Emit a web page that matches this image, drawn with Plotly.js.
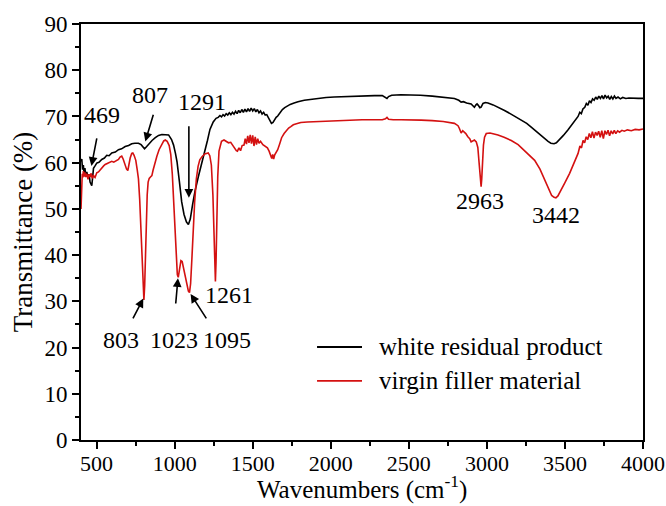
<!DOCTYPE html>
<html>
<head>
<meta charset="utf-8">
<script src="https://cdn.plot.ly/plotly-3.0.1.min.js"></script>
<style>
  html, body { margin: 0; padding: 0; background: #ffffff; }
  #chart { width: 666px; height: 506px; }
</style>
</head>
<body>
<div id="chart"></div>
<script>
// FTIR spectra: wavenumber (cm-1) vs transmittance (%)
const whiteResidualX = [
  400, 405, 410, 415, 420, 425, 430, 437, 445, 452, 458, 463, 469, 474, 480, 490,
  501, 515, 533, 550, 565, 580, 597, 620, 640, 660, 683, 705, 725, 745, 768, 785,
  797, 807, 818, 833, 855, 876, 897, 918, 940, 961, 980, 993, 1005, 1015, 1030, 1045,
  1060, 1075, 1088, 1100, 1115, 1130, 1152, 1172, 1194, 1210, 1226, 1247, 1265, 1279,
  1290, 1300, 1310, 1320, 1330, 1340, 1350, 1360, 1370, 1380, 1390, 1400, 1410, 1420,
  1430, 1440, 1450, 1460, 1470, 1480, 1490, 1500, 1510, 1520, 1530, 1540, 1550, 1560,
  1570, 1580, 1590, 1600, 1610, 1620, 1630, 1640, 1650, 1660, 1675, 1690, 1705, 1720,
  1740, 1765, 1790, 1830, 1870, 1915, 1970, 2022, 2080, 2130, 2200, 2280, 2330, 2350,
  2360, 2370, 2390, 2450, 2520, 2575, 2650, 2720, 2792, 2820, 2835, 2850, 2870, 2899,
  2910, 2920, 2930, 2937, 2945, 2955, 2963, 2975, 2990, 3007, 3040, 3080, 3113, 3160,
  3220, 3255, 3284, 3310, 3340, 3370, 3392, 3410, 3430, 3445, 3466, 3490, 3520, 3550,
  3570, 3584, 3595, 3605, 3615, 3627, 3637, 3647, 3657, 3667, 3677, 3687, 3697, 3707,
  3717, 3727, 3737, 3747, 3757, 3767, 3777, 3787, 3797, 3807, 3817, 3827, 3840, 3855,
  3870, 3890, 3910, 3940, 3970, 4000
];
const whiteResidualY = [
  60.2, 60.8, 58.5, 59.5, 57.6, 58.8, 57.4, 58.0, 56.8, 57.5, 55.8, 55.2, 55.0, 56.6, 58.8, 59.3,
  59.9, 60.1, 60.7, 61.0, 61.6, 61.5, 62.1, 62.3, 62.8, 63.0, 63.5, 63.7, 64.1, 64.2, 64.2, 63.9,
  63.4, 63.0, 63.4, 64.0, 64.8, 65.4, 65.9, 66.1, 66.1, 66.0, 65.0, 63.8, 62.0, 60.2, 56.0, 51.5,
  48.8, 47.2, 46.6, 47.8, 51.0, 53.8, 57.0, 59.6, 62.2, 64.8, 67.2, 68.8, 69.6, 69.8,
  70.2, 69.9, 70.4, 70.1, 70.6, 70.3, 70.8, 70.4, 70.9, 70.5, 71.1, 70.6, 71.3, 70.8,
  71.5, 70.9, 71.6, 71.0, 71.7, 71.1, 71.8, 71.2, 71.7, 71.0, 71.5, 70.8, 71.2, 70.5,
  70.9, 70.3, 70.4, 69.8, 69.0, 68.5, 68.7, 69.4, 69.8, 70.1, 70.9, 71.5, 71.9, 72.2,
  72.6, 72.9, 73.2, 73.5, 73.7, 73.9, 74.1, 74.2, 74.3, 74.4, 74.5, 74.5, 74.5, 74.2,
  73.9, 74.3, 74.6, 74.7, 74.7, 74.6, 74.4, 74.2, 73.9, 73.5, 73.1, 73.2, 72.9, 72.7,
  72.4, 72.0, 72.5, 72.7, 72.4, 71.9, 72.0, 72.8, 73.0, 72.9, 72.5, 71.9, 71.3, 70.4,
  69.2, 68.5, 67.7, 66.9, 66.0, 65.1, 64.6, 64.2, 64.1, 64.3, 65.0, 65.9, 67.1, 68.4,
  69.2, 70.0, 70.9, 70.6, 71.6, 72.0, 72.8, 72.4, 73.4, 73.0, 73.8, 73.5, 74.2, 73.7,
  74.4, 73.9, 74.5, 73.8, 74.6, 74.0, 74.4, 73.7, 74.3, 73.8, 74.4, 73.9, 74.2, 73.8,
  74.1, 73.9, 74.0, 73.9, 73.9, 73.9
];

const virginFillerX = [
  400, 404, 408, 412, 415, 420, 425, 430, 437, 445, 452, 458, 465, 472, 480, 490,
  501, 512, 523, 535, 545, 555, 570, 585, 597, 610, 625, 640, 650, 661, 670, 683,
  692, 700, 708, 715, 725, 732, 740, 751, 760, 768, 776, 786, 793, 798, 803, 808,
  813, 818, 824, 830, 837, 845, 854, 862, 872, 886, 900, 918, 930, 940, 952, 965,
  975, 985, 995, 1003, 1010, 1017, 1023, 1030, 1040, 1048, 1058, 1068, 1080, 1088, 1095, 1102,
  1110, 1118, 1128, 1139, 1150, 1161, 1175, 1193, 1205, 1215, 1225, 1235, 1245, 1252, 1257, 1261,
  1265, 1270, 1276, 1284, 1292, 1300, 1316, 1330, 1345, 1359, 1372, 1385, 1395, 1402, 1412, 1422,
  1432, 1444, 1452, 1460, 1468, 1476, 1484, 1492, 1500, 1508, 1516, 1524, 1532, 1540,
  1550, 1565, 1580, 1594, 1605, 1615, 1622, 1628, 1634, 1641, 1650, 1660, 1672, 1685,
  1701, 1715, 1730, 1744, 1760, 1780, 1808, 1850, 1915, 1970, 2022, 2080, 2129, 2200, 2280, 2330,
  2350, 2360, 2370, 2400, 2450, 2520, 2579, 2650, 2720, 2792, 2815, 2824, 2835, 2845, 2852, 2865,
  2878, 2890, 2899, 2910, 2920, 2932, 2942, 2950, 2956, 2960, 2963, 2967, 2972, 2978, 2985, 2996,
  3020, 3050, 3071, 3110, 3156, 3200, 3241, 3275, 3306, 3340, 3370, 3395, 3415, 3430, 3442, 3455,
  3477, 3500, 3530, 3555, 3570, 3584, 3596, 3606, 3616, 3626, 3636, 3646, 3656, 3666,
  3676, 3686, 3696, 3706, 3716, 3726, 3736, 3746, 3756, 3766, 3776, 3786, 3796, 3806,
  3816, 3826, 3838, 3850, 3865, 3880, 3900, 3925, 3950, 3975, 4000
];
const virginFillerY = [
  50.0, 54.8, 57.6, 56.8, 58.2, 57.0, 57.9, 56.9, 57.6, 56.4, 57.5, 56.9, 57.7, 56.6, 57.2, 56.8,
  57.8, 58.0, 58.5, 58.9, 59.3, 59.6, 59.8, 60.0, 60.3, 60.1, 60.5, 60.7, 61.2, 61.4, 60.8, 59.3,
  58.6, 58.3, 59.8, 61.0, 62.0, 62.1, 61.6, 60.5, 58.5, 56.5, 52.0, 44.0, 36.5, 32.0, 30.3, 33.5,
  41.0, 48.5, 53.0, 55.8, 56.6, 56.9, 57.2, 58.4, 59.9, 61.4, 62.8, 64.1, 64.7, 64.9, 64.6, 63.7,
  61.8, 57.5, 50.0, 43.0, 38.5, 35.8, 35.2, 37.2, 38.8, 38.6, 37.0, 35.0, 33.0, 32.2, 31.9, 33.8,
  39.0, 45.0, 51.5, 56.5, 59.2, 60.6, 61.3, 61.9, 62.1, 62.1, 61.5, 59.5, 53.0, 45.0, 38.0, 34.3,
  38.5, 48.0, 57.0, 62.5, 64.0, 64.6, 64.9, 64.6, 64.3, 64.4, 63.8, 63.0, 62.6, 62.5, 63.2, 62.6,
  63.7, 63.8, 65.2, 64.0, 65.8, 64.3, 66.0, 64.1, 65.9, 63.6, 65.6, 63.9, 65.2, 64.2,
  64.6, 63.9, 63.6, 63.2, 62.5, 61.6, 60.9, 61.8, 60.8, 61.7, 62.3, 62.8, 64.0, 65.4,
  66.3, 66.9, 67.5, 67.8, 68.2, 68.4, 68.7, 68.8, 68.9, 69.0, 69.1, 69.2, 69.2, 69.3, 69.3, 69.3,
  69.5, 69.8, 69.4, 69.3, 69.3, 69.3, 69.2, 69.1, 68.9, 68.5, 68.0, 67.4, 66.4, 66.9, 66.7, 66.3,
  65.6, 65.2, 64.5, 64.8, 64.9, 64.5, 63.3, 60.0, 56.5, 55.0, 54.8, 56.5, 60.5, 63.8, 65.5, 66.3,
  66.4, 66.2, 66.0, 65.5, 64.8, 63.9, 62.6, 61.6, 60.5, 58.6, 56.3, 54.2, 52.9, 52.5, 52.4, 52.8,
  54.1, 55.7, 57.7, 59.8, 61.0, 62.0, 63.6, 63.2, 64.8, 64.3, 65.6, 65.0, 66.3, 65.4,
  66.7, 65.3, 66.6, 65.9, 66.8, 65.5, 66.9, 65.2, 66.9, 66.1, 67.0, 65.8, 66.9, 66.2,
  67.0, 66.3, 66.9, 66.6, 67.0, 66.8, 67.1, 66.9, 67.2, 67.1, 67.3
];

// Band labels: text, label position (wavenumber, %T)
const bandLabels = ['469', '807', '1291', '803', '1023', '1095', '1261', '2963', '3442'];
const bandLabelX = [537, 845, 1177, 655, 995, 1338, 1348, 2953, 3445];
const bandLabelY = [70.3, 74.6, 73.2, 21.6, 21.6, 21.6, 31.4, 51.6, 48.7];

// Pointer arrows: head (wavenumber, %T) and tail (wavenumber, %T)
const arrowHeadX = [467, 812, 1091, 799, 1021, 1102];
const arrowHeadY = [59.3, 64.6, 52.4, 30.6, 35.0, 31.6];
const arrowTailX = [503, 866, 1091, 728, 1006, 1209];
const arrowTailY = [65.6, 70.7, 68.2, 26.0, 29.2, 26.0];

const seriesNames = ['white residual product', 'virgin filler material'];
const seriesColors = ['#000000', '#d41111'];
const xTitle = 'Wavenumbers (cm<sup>-1</sup>)';
const yTitle = 'Transmittance (%)';

const FONT = 'Liberation Serif, Times New Roman, serif';

const traces = [
  {
    x: whiteResidualX, y: whiteResidualY, name: seriesNames[0],
    type: 'scatter', mode: 'lines', showlegend: false,
    line: { color: seriesColors[0], width: 1.6 }
  },
  {
    x: virginFillerX, y: virginFillerY, name: seriesNames[1],
    type: 'scatter', mode: 'lines', showlegend: false,
    line: { color: seriesColors[1], width: 1.6 }
  }
];

const annotations = [];
bandLabels.forEach((t, i) => {
  annotations.push({
    x: bandLabelX[i], y: bandLabelY[i], xref: 'x', yref: 'y',
    text: t, showarrow: false,
    font: { family: FONT, size: 24, color: '#000' }
  });
});
arrowHeadX.forEach((hx, i) => {
  annotations.push({
    x: hx, y: arrowHeadY[i], xref: 'x', yref: 'y',
    ax: arrowTailX[i], ay: arrowTailY[i], axref: 'x', ayref: 'y',
    text: '', showarrow: true, arrowhead: 2, arrowsize: 1.1,
    arrowwidth: 1.6, arrowcolor: '#000'
  });
});

// x-axis title placed below the tick labels, kept inside the page
annotations.push({
  xref: 'paper', yref: 'paper', x: 0.5, y: -0.1562,
  xanchor: 'center', yanchor: 'bottom', showarrow: false, borderpad: 0,
  text: xTitle, font: { family: FONT, size: 25, color: '#000' }
});

// Legend: sample line + series name, in paper coordinates
const legendRowY = [0.2236, 0.142];
const shapes = [];
seriesNames.forEach((name, i) => {
  shapes.push({
    type: 'line', xref: 'paper', yref: 'paper',
    x0: 0.42, x1: 0.50, y0: legendRowY[i], y1: legendRowY[i],
    line: { color: seriesColors[i], width: 1.8 }
  });
  annotations.push({
    xref: 'paper', yref: 'paper', x: 0.527, y: legendRowY[i],
    xanchor: 'left', yanchor: 'middle', showarrow: false,
    text: name, font: { family: FONT, size: 25, color: '#000' }
  });
});

const layout = {
  width: 666, height: 506,
  margin: { l: 81, r: 23, t: 24, b: 66 },
  paper_bgcolor: '#ffffff', plot_bgcolor: '#ffffff',
  font: { family: FONT, size: 23, color: '#000' },
  showlegend: false,
  xaxis: {
    range: [400, 4000], dtick: 500, tick0: 0,
    showgrid: false, zeroline: false,
    showline: true, linecolor: '#000', linewidth: 2, mirror: true,
    ticks: 'outside', ticklen: 7, tickwidth: 2, tickcolor: '#000',
    ticklabelstandoff: -4,
    minor: { ticks: 'outside', dtick: 250, ticklen: 4, tickwidth: 2, tickcolor: '#000' },
    tickfont: { family: FONT, size: 22, color: '#000' }
  },
  yaxis: {
    range: [0, 90], dtick: 10, tick0: 0,
    showgrid: false, zeroline: false,
    showline: true, linecolor: '#000', linewidth: 2, mirror: true,
    ticks: 'outside', ticklen: 7, tickwidth: 2, tickcolor: '#000',
    minor: { ticks: 'outside', dtick: 5, ticklen: 4, tickwidth: 2, tickcolor: '#000' },
    tickfont: { family: FONT, size: 23, color: '#000' },
    title: { text: yTitle, font: { family: FONT, size: 27, color: '#000' }, standoff: 4 }
  },
  shapes: shapes,
  annotations: annotations
};

Plotly.newPlot('chart', traces, layout, { displayModeBar: false, staticPlot: true });
</script>
</body>
</html>
